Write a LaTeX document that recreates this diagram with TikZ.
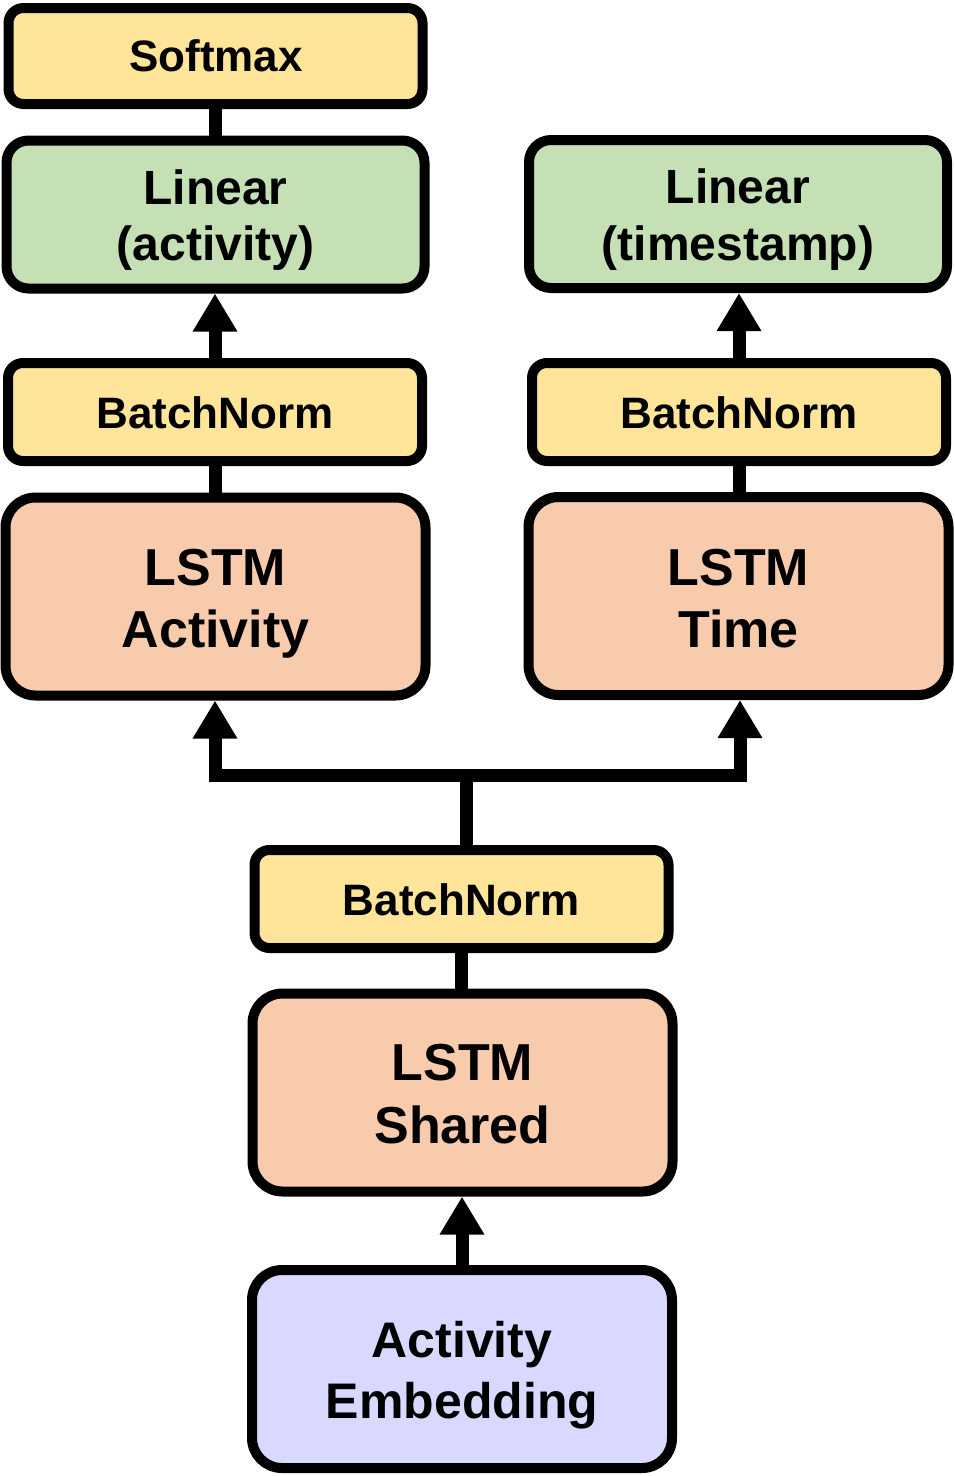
\documentclass[tikz,border=0pt]{standalone}
\usepackage{fontspec}
\setmainfont{Liberation Sans}
\usetikzlibrary{arrows.meta}
\definecolor{cyellow}{HTML}{FFE599}
\definecolor{cgreen}{HTML}{C5E0B4}
\definecolor{cpeach}{HTML}{F8CBAD}
\definecolor{clav}{HTML}{D9D9FF}
\tikzset{
  box/.style={draw=black, line width=10pt, inner sep=0pt, rectangle},
  smallbox/.style={box, fill=cyellow, minimum width=414pt, minimum height=98pt, rounded corners=15pt},
  softbox/.style={box, fill=cyellow, minimum width=414pt, minimum height=96pt, rounded corners=15pt},
  linbox/.style={box, fill=cgreen, minimum width=418pt, minimum height=148pt, rounded corners=22pt},
  lstmbox/.style={box, fill=cpeach, minimum width=420pt, minimum height=198pt, rounded corners=30pt},
  embbox/.style={box, fill=clav, minimum width=420pt, minimum height=198pt, rounded corners=30pt},
  txt/.style={anchor=base, inner sep=0pt, font=\bfseries\fontsize{#1}{#1}\selectfont},
  conn/.style={draw=black, line width=13pt},
  arr/.style={conn, -{Triangle[length=38pt,width=42pt]}},
}
\begin{document}
\begin{tikzpicture}[x=1pt,y=-1pt]
\useasboundingbox (0,0) rectangle (955,1476);
% boxes
\node[softbox] (soft) at (215.5,56) {};
\node[linbox] (lina) at (215.5,214.5) {};
\node[smallbox] (bnl) at (215,412) {};
\node[lstmbox] (lstma) at (215.5,596.5) {};
\node[linbox] (lint) at (738,214) {};
\node[smallbox] (bnr) at (739,412) {};
\node[lstmbox] (lstmt) at (738.5,596) {};
\node[smallbox] (bnb) at (461.5,899) {};
\node[lstmbox] (lstms) at (462.5,1092.5) {};
\node[embbox] (emb) at (462,1369) {};
% texts
\node[txt=44] (soft-t) at (216,71) {Softmax};
\node[txt=48] (lina-t1) at (215.5,204) {Linear};
\node[txt=48] (lina-t2) at (215.5,260) {(activity)};
\node[txt=48] (lint-t1) at (738,203.5) {Linear};
\node[txt=48] (lint-t2) at (738,260) {(timestamp)};
\node[txt=44] (bnl-t) at (215,428) {BatchNorm};
\node[txt=44] (bnr-t) at (739,428) {BatchNorm};
\node[txt=52] (lstma-t1) at (215.5,585) {LSTM};
\node[txt=52] (lstma-t2) at (215.5,647) {Activity};
\node[txt=52] (lstmt-t1) at (738.5,585) {LSTM};
\node[txt=52] (lstmt-t2) at (738.5,647) {Time};
\node[txt=44] (bnb-t) at (461.5,915) {BatchNorm};
\node[txt=52] (lstms-t1) at (462.5,1080) {LSTM};
\node[txt=52] (lstms-t2) at (462.5,1143) {Shared};
\node[txt=50] (emb-t1) at (462,1357) {Activity};
\node[txt=50] (emb-t2) at (462,1418) {Embedding};
% connectors
\coordinate (j) at (466,775);
\draw[conn] (soft.south) -- (soft.south |- lina.north);
\draw[arr] (bnl.north) -- (bnl.north |- lina.south);
\draw[conn] (bnl.south) -- (bnl.south |- lstma.north);
\draw[arr] (bnr.north) -- (bnr.north |- lint.south);
\draw[conn] (bnr.south) -- (bnr.south |- lstmt.north);
\draw[conn] (bnb.north -| j) -- (j);
\draw[arr] (j) -| (bnl.south |- lstma.south);
\draw[arr] (j) -| (740,0 |- lstmt.south);
\draw[conn] (bnb.south) -- (bnb.south |- lstms.north);
\draw[arr] (emb.north) -- (emb.north |- lstms.south);
\end{tikzpicture}
\end{document}
